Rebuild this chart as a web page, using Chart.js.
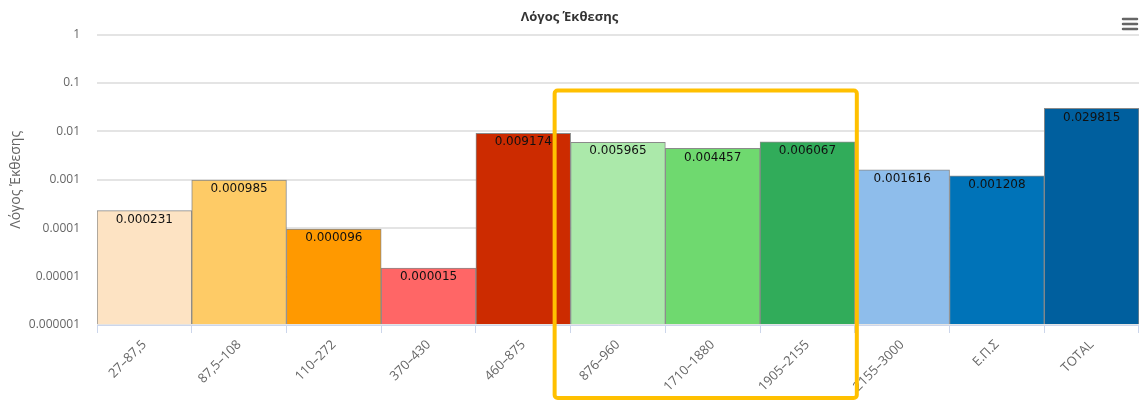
<!DOCTYPE html>
<html>
<head>
<meta charset="utf-8">
<script src="https://cdn.jsdelivr.net/npm/chart.js@4"></script>
<style>
  html, body { margin: 0; padding: 0; background: #fff; }
  #wrap { width: 1139px; height: 401px; }
</style>
</head>
<body>
<div id="wrap"><canvas id="ratioChart" width="1139" height="401"></canvas></div>
<script>
const categories = ["27–87,5", "87,5–108", "110–272", "370–430", "460–875", "876–960", "1710–1880", "1905–2155", "2155–3000", "Ε.Π.Σ", "TOTAL"];
const values = [0.000231, 0.000985, 0.000096, 0.000015, 0.009174, 0.005965, 0.004457, 0.006067, 0.001616, 0.001208, 0.029815];
const valueLabels = ["0.000231", "0.000985", "0.000096", "0.000015", "0.009174", "0.005965", "0.004457", "0.006067", "0.001616", "0.001208", "0.029815"];
const barColors = ["#FDE3C3", "#FECB66", "#FF9900", "#FF6666", "#CC2B00", "#ABE9AA", "#6FD96F", "#31AC5A", "#8EBDEB", "#0073B8", "#005F9E"];
const yTicks = [1, 0.1, 0.01, 0.001, 0.0001, 0.00001, 0.000001];
const yTickLabels = ["1", "0.1", "0.01", "0.001", "0.0001", "0.00001", "0.000001"];

// highlighted group of bars (yellow frame)
const highlightFrom = 5;
const highlightTo = 7;
const highlightTop = 0.07;

// value labels at top of each bar
const valueLabelPlugin = {
  id: 'valueLabels',
  afterDatasetsDraw(chart) {
    const ctx = chart.ctx;
    const meta = chart.getDatasetMeta(0);
    ctx.save();
    ctx.font = '12px "DejaVu Sans"';
    ctx.fillStyle = '#111';
    ctx.textAlign = 'center';
    ctx.textBaseline = 'top';
    meta.data.forEach((bar, i) => {
      ctx.fillText(valueLabels[i], bar.x, bar.y + 3);
    });
    ctx.restore();
  }
};

// yellow frame + menu icon
const framePlugin = {
  id: 'frame',
  afterDraw(chart) {
    const ctx = chart.ctx;
    const x = chart.scales.x;
    const y = chart.scales.y;
    const half = (x.getPixelForValue(1) - x.getPixelForValue(0)) / 2;
    const left = x.getPixelForValue(highlightFrom) - half - 16;
    const right = x.getPixelForValue(highlightTo) + half + 2;
    const top = y.getPixelForValue(highlightTop);
    const bottom = chart.height - 3;
    ctx.save();
    ctx.strokeStyle = '#FFC000';
    ctx.lineWidth = 4;
    ctx.beginPath();
    ctx.roundRect(left, top, right - left, bottom - top, 3);
    ctx.stroke();

    // hamburger menu
    ctx.strokeStyle = '#666';
    ctx.lineWidth = 2.5;
    ctx.lineCap = 'round';
    [19, 24, 29].forEach(yy => {
      ctx.beginPath();
      ctx.moveTo(1123, yy);
      ctx.lineTo(1137, yy);
      ctx.stroke();
    });
    ctx.restore();
  }
};

new Chart(document.getElementById("ratioChart"), {
  type: 'bar',
  data: {
    labels: categories,
    datasets: [{
      label: 'Λόγος Έκθεσης',
      data: values,
      backgroundColor: barColors,
      borderColor: '#8a8a8a',
      borderWidth: 1,
      barPercentage: 1,
      categoryPercentage: 1,
      base: 0.000001
    }]
  },
  options: {
    responsive: false,
    animation: false,
    layout: { padding: { left: 0, right: 0, top: 0, bottom: 0 } },
    plugins: {
      legend: { display: false },
      tooltip: { enabled: false },
      title: {
        display: true,
        text: 'Λόγος Έκθεσης',
        color: '#333',
        font: { family: '"Open Sans"', size: 13, weight: 'bold' },
        padding: { top: 9, bottom: 10 }
      }
    },
    scales: {
      x: {
        offset: true,
        grid: {
          offset: true,
          drawOnChartArea: false,
          color: '#ccd6eb',
          tickLength: 8
        },
        border: { color: '#ccd6eb' },
        ticks: {
          color: '#666',
          font: { family: '"Open Sans"', size: 13 },
          minRotation: 45,
          maxRotation: 45,
          padding: 4,
          autoSkip: false
        },
        afterFit(scale) { scale.height = 76; }
      },
      y: {
        type: 'logarithmic',
        min: 0.000001,
        max: 1,
        afterBuildTicks(scale) {
          scale.ticks = yTicks.map(v => ({ value: v }));
        },
        ticks: {
          color: '#666',
          font: { family: '"Open Sans"', size: 12 },
          padding: 17,
          callback(value) {
            const i = yTicks.findIndex(t => Math.abs(Math.log10(t) - Math.log10(value)) < 1e-6);
            return i >= 0 ? yTickLabels[i] : '';
          }
        },
        grid: { color: '#e4e4e4', lineWidth: 2, drawTicks: false },
        border: { display: false },
        title: {
          display: true,
          text: 'Λόγος Έκθεσης',
          color: '#666',
          font: { family: '"Open Sans"', size: 14 },
          padding: { top: 8, bottom: 0 }
        },
        afterFit(scale) { scale.width = 97; }
      }
    }
  },
  plugins: [valueLabelPlugin, framePlugin]
});
</script>
</body>
</html>
